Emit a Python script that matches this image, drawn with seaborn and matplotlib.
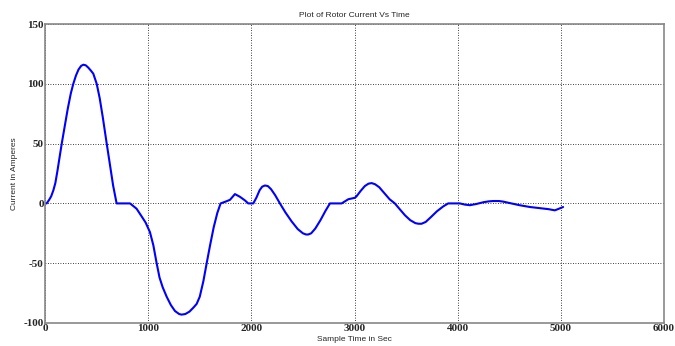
import numpy as np
import pandas as pd
import seaborn as sns
import matplotlib.pyplot as plt

# sample time (sec) and rotor current (A)
time = [0, 16, 40, 60, 81, 100, 120, 140, 162, 190, 220, 250, 274, 300, 325, 350,
        371, 395, 420, 445, 468, 501, 530, 560, 598, 630, 660, 694,
        760, 824, 860, 888, 930, 975, 1017, 1050, 1082, 1110, 1140, 1179, 1220,
        1260, 1300, 1324, 1360, 1400, 1440, 1470, 1500, 1535, 1567, 1600, 1635,
        1670, 1702, 1750, 1793, 1841, 1890, 1938, 1970, 2019, 2050, 2080, 2105,
        2132, 2160, 2190, 2230, 2277, 2330, 2390, 2450, 2500, 2530, 2551, 2580,
        2620, 2670, 2720, 2762, 2875, 2940, 3004, 3020, 3060, 3100, 3135, 3166,
        3200, 3240, 3290, 3340, 3391, 3440, 3490, 3540, 3590, 3620, 3650, 3690,
        3740, 3800, 3860, 3908, 4021, 4070, 4118, 4180, 4250, 4300, 4344, 4400,
        4441, 4520, 4600, 4700, 4800, 4880, 4942, 4980, 5022]
current = [0, 0, 3, 6, 11, 17, 27, 38, 50, 64, 79, 92, 100, 107, 112, 115,
           116, 115.5, 113.5, 111, 108.5, 100, 88, 72, 50, 32, 15, 0,
           0, 0, -2.5, -4.5, -10, -16, -24, -35, -50, -62, -70, -78, -85,
           -90, -92.5, -93, -92.5, -90.5, -87, -84, -78, -65, -50, -35, -20,
           -8, 0, 1.5, 3, 7.8, 5.5, 2.5, 0, 0, 5, 11, 14,
           15, 14.5, 12, 7, 0, -7.5, -15, -21.5, -25, -26, -26, -25,
           -21, -14, -6, 0, 0, 3.5, 4.7, 6, 10.5, 14.5, 16.5, 17,
           16, 13.5, 8.5, 3.5, 0, -5, -10, -14, -16.5, -17, -17, -15.5,
           -11.5, -6.5, -2.5, 0, 0, -1, -1.5, -0.5, 1, 1.7, 2, 2,
           1.5, 0, -1.5, -3, -4, -4.8, -5.8, -4.5, -3]

xticks = [0, 1000, 2000, 3000, 4000, 5000, 6000]
yticks = [-100, -50, 0, 50, 100, 150]

df = pd.DataFrame({"time": time, "current": current})

sns.set_style("white")
fig = plt.figure(figsize=(6.75, 3.46), dpi=100)
ax = fig.add_axes([0.0667, 0.0665, 0.917, 0.864])

sns.lineplot(data=df, x="time", y="current", color="#0000ff", linewidth=1.5, ax=ax)

ax.set_xlim(0, 6000)
ax.set_ylim(-100, 150)
ax.set_xticks(xticks)
ax.set_yticks(yticks)
ax.set_xticklabels([str(t) for t in xticks], fontfamily="Liberation Serif",
                   fontweight="bold", fontsize=8)
ax.set_yticklabels([str(t) for t in yticks], fontfamily="Liberation Serif",
                   fontweight="bold", fontsize=8)
ax.tick_params(direction="in", length=3, pad=1, color="#555555")
ax.grid(True, color="black", linestyle=(0, (1, 2)), linewidth=0.6)
for s in ax.spines.values():
    s.set_color("#888888")
    s.set_linewidth(1.2)

ax.set_title("Plot of Rotor Current Vs Time", fontsize=6, fontfamily="Liberation Sans", pad=5)
ax.set_xlabel("Sample Time in Sec", fontsize=6, fontfamily="Liberation Sans", labelpad=2)
ax.set_ylabel("Current in Amperes", fontsize=6, fontfamily="Liberation Sans", labelpad=4)

fig.savefig("out.png", dpi=100)
